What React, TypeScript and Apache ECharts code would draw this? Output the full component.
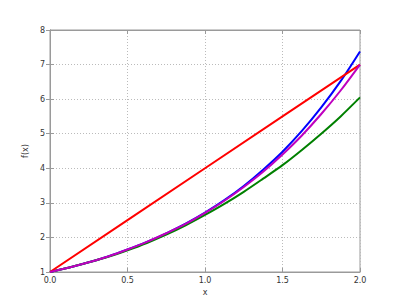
import React, { useEffect, useRef } from "react";
import * as echarts from "echarts";

const xs = [0, 0.125, 0.25, 0.375, 0.5, 0.625, 0.75, 0.875, 1, 1.125, 1.25, 1.375, 1.5, 1.625, 1.75, 1.875, 2];
const blueVals = [1, 1.13, 1.28, 1.45, 1.65, 1.87, 2.12, 2.4, 2.72, 3.08, 3.49, 3.96, 4.48, 5.08, 5.76, 6.52, 7.38];
const greenVals = [1, 1.13, 1.28, 1.44, 1.63, 1.84, 2.08, 2.35, 2.65, 2.97, 3.32, 3.7, 4.09, 4.53, 5.0, 5.5, 6.05];
const magentaVals = [1, 1.13, 1.28, 1.45, 1.65, 1.87, 2.12, 2.39, 2.71, 3.06, 3.46, 3.9, 4.4, 4.95, 5.57, 6.25, 7.0];
const redX = [0, 0.5, 1, 1.5, 2];
const redVals = [1, 2.5, 4, 5.5, 7];

const pairs = (x: number[], y: number[]) => x.map((v, i) => [v, y[i]]);

export default function App() {
  const ref = useRef<HTMLDivElement>(null);
  useEffect(() => {
    if (!ref.current) return;
    const chart = echarts.init(ref.current, null, { renderer: "svg" });
    const font = "DejaVu Sans";
    const frame = "#9a9a9a";
    const lineSeries = (data: number[][], color: string) => ({
      type: "line",
      data,
      showSymbol: false,
      smooth: 0.3,
      lineStyle: { color, width: 2 },
      itemStyle: { color },
    });
    const mirrorAxis = (position: string, min: number, max: number, interval: number) => ({
      type: "value",
      position,
      min,
      max,
      interval,
      axisLine: { show: true, lineStyle: { color: frame } },
      axisTick: { show: true, inside: true, length: 4, lineStyle: { color: frame } },
      axisLabel: { show: false },
      splitLine: { show: false },
    });
    chart.setOption({
      animation: false,
      grid: { left: 50, top: 30, right: 40, bottom: 30, show: true, borderColor: frame, borderWidth: 1 },
      xAxis: [
        {
          type: "value",
          position: "bottom",
          min: 0,
          max: 2,
          interval: 0.5,
          name: "x",
          nameLocation: "middle",
          nameGap: 16,
          nameTextStyle: { fontFamily: font, fontSize: 8, color: "#333" },
          axisLine: { show: true, lineStyle: { color: frame } },
          axisTick: { show: true, inside: true, length: 4, lineStyle: { color: frame } },
          axisLabel: { fontFamily: font, fontSize: 8, color: "#333", margin: 4, formatter: (v: number) => v.toFixed(1) },
          splitLine: { show: true, lineStyle: { color: "#bbb", type: [1, 2] } },
        },
        mirrorAxis("top", 0, 2, 0.5),
      ],
      yAxis: [
        {
          type: "value",
          position: "left",
          min: 1,
          max: 8,
          interval: 1,
          name: "f(x)",
          nameLocation: "middle",
          nameGap: 17,
          nameTextStyle: { fontFamily: font, fontSize: 8, color: "#333" },
          axisLine: { show: true, lineStyle: { color: frame } },
          axisTick: { show: true, inside: true, length: 4, lineStyle: { color: frame } },
          axisLabel: { fontFamily: font, fontSize: 8, color: "#333", margin: 5 },
          splitLine: { show: true, lineStyle: { color: "#bbb", type: [1, 2] } },
        },
        mirrorAxis("right", 1, 8, 1),
      ],
      series: [
        lineSeries(pairs(xs, blueVals), "#0000ff"),
        lineSeries(pairs(xs, greenVals), "#008000"),
        { ...lineSeries(pairs(redX, redVals), "#ff0000"), smooth: false },
        lineSeries(pairs(xs, magentaVals), "#bf00bf"),
      ],
    });
    return () => chart.dispose();
  }, []);
  return <div ref={ref} style={{ position: "fixed", left: 0, top: 0, width: 400, height: 302, background: "#fff" }} />;
}
